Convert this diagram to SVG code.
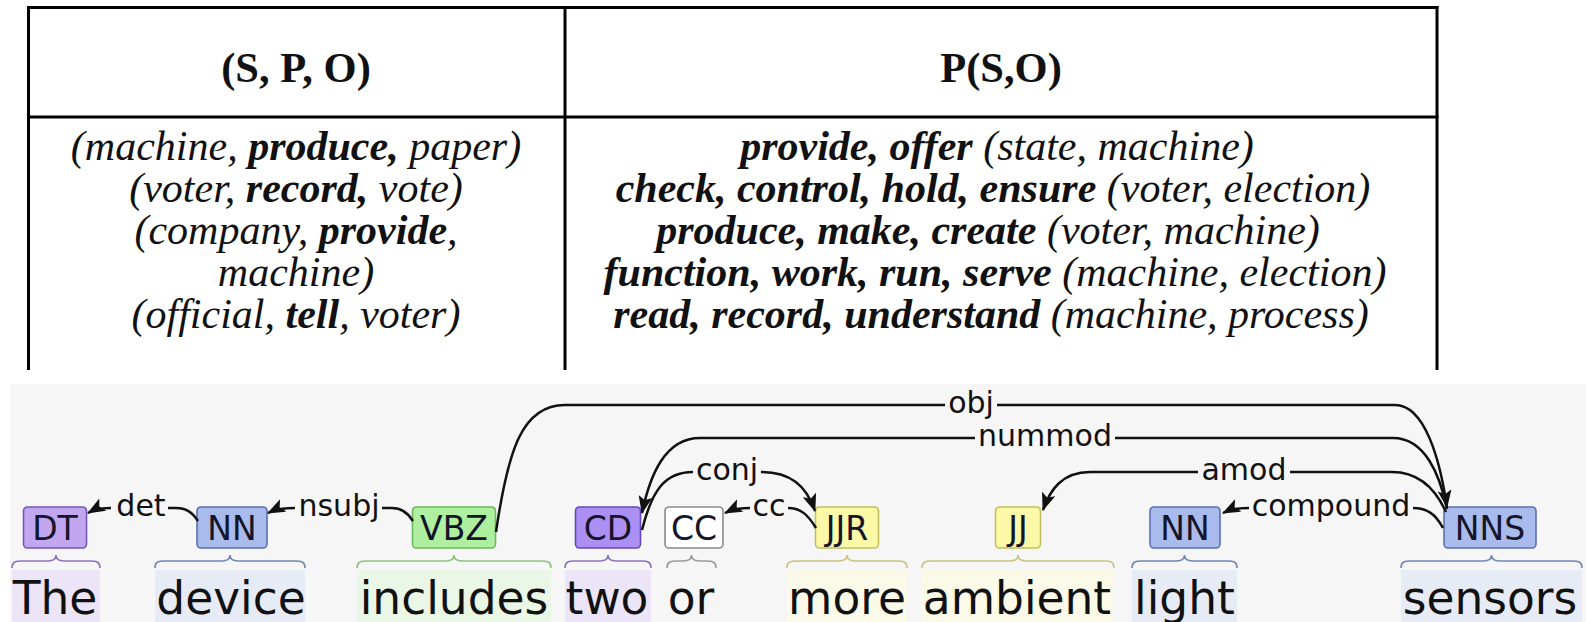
<svg xmlns="http://www.w3.org/2000/svg" width="1586" height="622" viewBox="0 0 1586 622">
<style>
.tl{stroke:#000;stroke-width:3;fill:none}
.th{font-family:"Liberation Serif","Times New Roman",serif;font-size:42.5px;font-weight:bold;fill:#111;text-anchor:middle}
.tt{font-family:"Liberation Serif","Times New Roman",serif;font-size:42px;font-style:italic;fill:#111;text-anchor:middle}
.b{font-weight:bold}
.tag rect{stroke-width:1.6}
.tagt{font-family:"DejaVu Sans",sans-serif;font-size:33px;fill:#15152a;text-anchor:middle}
.word{font-family:"DejaVu Sans",sans-serif;font-size:45.5px;fill:#111;text-anchor:middle}
.lbl{font-family:"DejaVu Sans",sans-serif;font-size:30px;fill:#111;text-anchor:middle}
.arc{fill:none;stroke:#111;stroke-width:2.5}
.brace{fill:none;stroke-width:1.6}
.pu rect{fill:#c2a6f0;stroke:#7355c0}
.pu2 rect{fill:#ab8ff2;stroke:#6447bd}
.bl rect{fill:#a9bbec;stroke:#5a70b4}
.gr rect{fill:#aef0a0;stroke:#6cb85c}
.wh rect{fill:#ffffff;stroke:#8a8a8a}
.ye rect{fill:#fbf9a8;stroke:#c4bf5e}
</style>
<defs>
<marker id="ah" viewBox="0 0 18 14" refX="17" refY="7" markerWidth="18" markerHeight="14" orient="auto" markerUnits="userSpaceOnUse">
<path d="M0,0 L18,7 L0,14 L4,7 z" fill="#111"/>
</marker>
</defs>
<rect x="0" y="0" width="1586" height="622" fill="#ffffff"/>
<g id="table">
<line class="tl" x1="27" y1="7.5" x2="1438.5" y2="7.5"/>
<line class="tl" x1="27" y1="117" x2="1438.5" y2="117"/>
<line class="tl" x1="28.5" y1="6" x2="28.5" y2="370"/>
<line class="tl" x1="565" y1="6" x2="565" y2="370"/>
<line class="tl" x1="1437" y1="6" x2="1437" y2="370"/>
<text class="th" x="296" y="82">(S, P, O)</text>
<text class="th" x="1001" y="82">P(S,O)</text>
<text class="tt" x="296" y="160">(machine, <tspan class="b">produce,</tspan> paper)</text>
<text class="tt" x="296" y="202">(voter, <tspan class="b">record,</tspan> vote)</text>
<text class="tt" x="296" y="244">(company, <tspan class="b">provide</tspan>,</text>
<text class="tt" x="296" y="286">machine)</text>
<text class="tt" x="296" y="328">(official, <tspan class="b">tell</tspan>, voter)</text>
<text class="tt" x="997" y="160"><tspan class="b">provide, offer</tspan> (state, machine)</text>
<text class="tt" x="993" y="202"><tspan class="b">check, control, hold, ensure</tspan> (voter, election)</text>
<text class="tt" x="988" y="244"><tspan class="b">produce, make, create</tspan> (voter, machine)</text>
<text class="tt" x="995" y="286"><tspan class="b">function, work, run, serve</tspan> (machine, election)</text>
<text class="tt" x="991" y="328"><tspan class="b">read, record, understand</tspan> (machine, process)</text>
</g>
<rect x="10" y="384" width="1576" height="238" fill="#f6f6f6"/>
<g id="highlights">
<rect x="12" y="570" width="88" height="52" fill="#ece5f7"/>
<rect x="155" y="570" width="150" height="52" fill="#e7ebf5"/>
<rect x="357" y="570" width="194" height="52" fill="#eaf6e6"/>
<rect x="565" y="570" width="86" height="52" fill="#ece5f7"/>
<rect x="787" y="570" width="120" height="52" fill="#fbfae8"/>
<rect x="922" y="570" width="192" height="52" fill="#fbfae8"/>
<rect x="1132" y="570" width="105" height="52" fill="#e7ebf5"/>
<rect x="1401" y="570" width="181" height="52" fill="#e7ebf5"/>
</g>
<g id="braces">
<path class="brace" stroke="#8c74bf" d="M12,568 C12,562 15,561 22,561 L48,561 C53,561 56,559 56,555 C56,559 59,561 64,561 L90,561 C97,561 100,562 100,568"/>
<path class="brace" stroke="#7486b8" d="M155,568 C155,562 158,561 165,561 L222,561 C227,561 230,559 230,555 C230,559 233,561 238,561 L295,561 C302,561 305,562 305,568"/>
<path class="brace" stroke="#8cc47f" d="M357,568 C357,562 360,561 367,561 L446,561 C451,561 454,559 454,555 C454,559 457,561 462,561 L541,561 C548,561 551,562 551,568"/>
<path class="brace" stroke="#8c74bf" d="M565,568 C565,562 568,561 575,561 L600,561 C605,561 608,559 608,555 C608,559 611,561 616,561 L641,561 C648,561 651,562 651,568"/>
<path class="brace" stroke="#9a9a9a" d="M667,568 C667,562 670,561 677,561 L683.5,561 C688.5,561 691.5,559 691.5,555 C691.5,559 694.5,561 699.5,561 L706,561 C713,561 716,562 716,568"/>
<path class="brace" stroke="#c9c482" d="M787,568 C787,562 790,561 797,561 L839,561 C844,561 847,559 847,555 C847,559 850,561 855,561 L897,561 C904,561 907,562 907,568"/>
<path class="brace" stroke="#c9c482" d="M922,568 C922,562 925,561 932,561 L1010,561 C1015,561 1018,559 1018,555 C1018,559 1021,561 1026,561 L1104,561 C1111,561 1114,562 1114,568"/>
<path class="brace" stroke="#7486b8" d="M1132,568 C1132,562 1135,561 1142,561 L1176.5,561 C1181.5,561 1184.5,559 1184.5,555 C1184.5,559 1187.5,561 1192.5,561 L1227,561 C1234,561 1237,562 1237,568"/>
<path class="brace" stroke="#7486b8" d="M1401,568 C1401,562 1404,561 1411,561 L1483.5,561 C1488.5,561 1491.5,559 1491.5,555 C1491.5,559 1494.5,561 1499.5,561 L1572,561 C1579,561 1582,562 1582,568"/>
</g>
<g id="words">
<text class="word" x="55" y="614">The</text>
<text class="word" x="231" y="614">device</text>
<text class="word" x="454" y="614">includes</text>
<text class="word" x="607" y="614">two</text>
<text class="word" x="691" y="614">or</text>
<text class="word" x="847" y="614">more</text>
<text class="word" x="1017" y="614">ambient</text>
<text class="word" x="1184.5" y="614">light</text>
<text class="word" x="1490" y="614">sensors</text>
</g>
<g id="node-DT" class="tag pu"><rect x="23.5" y="507" width="63" height="41" rx="4"/><text class="tagt" x="55" y="539.5">DT</text></g>
<g id="node-NN1" class="tag bl"><rect x="197" y="507" width="70" height="41" rx="4"/><text class="tagt" x="232" y="539.5">NN</text></g>
<g id="node-VBZ" class="tag gr"><rect x="412.5" y="507" width="83" height="41" rx="4"/><text class="tagt" x="454" y="539.5">VBZ</text></g>
<g id="node-CD" class="tag pu2"><rect x="575.5" y="507" width="65" height="41" rx="4"/><text class="tagt" x="608" y="539.5">CD</text></g>
<g id="node-CC" class="tag wh"><rect x="665" y="507" width="58" height="41" rx="4"/><text class="tagt" x="694" y="539.5">CC</text></g>
<g id="node-JJR" class="tag ye"><rect x="815.5" y="507" width="63" height="41" rx="4"/><text class="tagt" x="847" y="539.5">JJR</text></g>
<g id="node-JJ" class="tag ye"><rect x="995.5" y="507" width="45" height="41" rx="4"/><text class="tagt" x="1018" y="539.5">JJ</text></g>
<g id="node-NN2" class="tag bl"><rect x="1150" y="507" width="70" height="41" rx="4"/><text class="tagt" x="1185" y="539.5">NN</text></g>
<g id="node-NNS" class="tag bl"><rect x="1444" y="507" width="92" height="41" rx="4"/><text class="tagt" x="1490" y="539.5">NNS</text></g>
<g id="connectors">
<path class="arc" d="M111,508 C101,508 95,509 88,513" marker-end="url(#ah)"/>
<path class="arc" d="M168,508 L176,508 C186,508 192,512 198,521"/>
<text class="lbl" x="141" y="516">det</text>
<path class="arc" d="M295,508 C283,508 276,509 268,513" marker-end="url(#ah)"/>
<path class="arc" d="M382,508 L392,508 C402,508 408,513 413,521"/>
<text class="lbl" x="339" y="516">nsubj</text>
<path class="arc" d="M496,532 C508,450 522,405 565,405 L945,405"/>
<path class="arc" d="M997,405 L1395,405 C1425,405 1440,460 1447,507" marker-end="url(#ah)"/>
<text class="lbl" x="971" y="413">obj</text>
<path class="arc" d="M975,438 L700,438 C665,438 650,475 642,513" marker-end="url(#ah)"/>
<path class="arc" d="M1115,438 L1393,438 C1425,438 1440,475 1447,509"/>
<text class="lbl" x="1045" y="446">nummod</text>
<path class="arc" d="M642,530 C652,490 665,472 693,472"/>
<path class="arc" d="M761,472 C790,472 806,485 815,511" marker-end="url(#ah)"/>
<text class="lbl" x="727" y="480">conj</text>
<path class="arc" d="M750,508 C740,508 733,509 725,513" marker-end="url(#ah)"/>
<path class="arc" d="M788,508 C801,508 808,515 816,528"/>
<text class="lbl" x="769" y="516">cc</text>
<path class="arc" d="M1198,472 L1090,472 C1062,472 1050,490 1043,510" marker-end="url(#ah)"/>
<path class="arc" d="M1290,472 L1392,472 C1420,472 1436,490 1446,512"/>
<text class="lbl" x="1244" y="480">amod</text>
<path class="arc" d="M1249,508 C1238,508 1231,509 1223,513" marker-end="url(#ah)"/>
<path class="arc" d="M1413,508 C1428,508 1436,515 1443,528"/>
<text class="lbl" x="1331" y="516">compound</text>
</g>
</svg>
